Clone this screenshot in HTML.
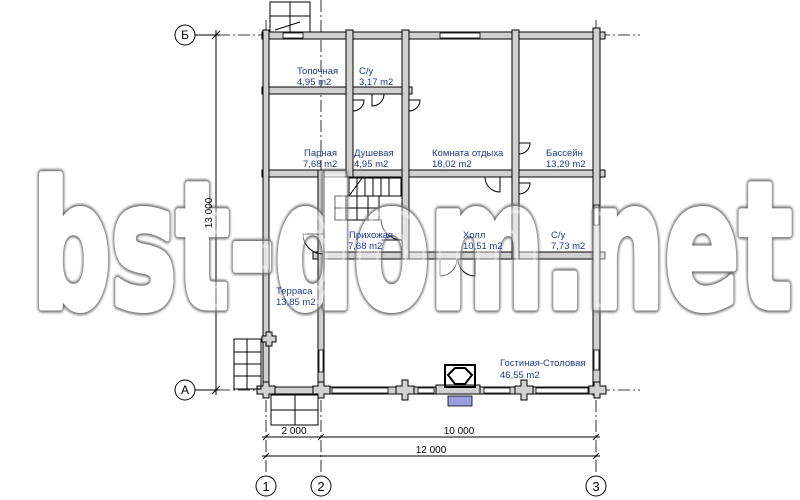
<!DOCTYPE html>
<html><head><meta charset="utf-8"><style>
html,body{margin:0;padding:0;background:#fff;width:800px;height:500px;overflow:hidden}
svg{display:block}
.t{font-family:"Liberation Sans",sans-serif;font-size:9.5px;fill:#1a3a8a}
.d{font-family:"Liberation Sans",sans-serif;font-size:10px;fill:#000}
.w{fill:#d0d0d0;stroke:#000;stroke-width:1}
.ax{stroke:#000;stroke-width:0.8;stroke-dasharray:12 3 2 3;fill:none}
.l{stroke:#000;stroke-width:1;fill:none}
.wm{font-family:'DejaVu Sans',sans-serif;font-size:174px;font-weight:bold}
</style></head><body>
<svg width="800" height="500" viewBox="0 0 800 500" xmlns="http://www.w3.org/2000/svg">
<defs><filter id="b" x="-5%" y="-5%" width="110%" height="110%"><feGaussianBlur stdDeviation="1.3"/></filter>
<mask id="m"><rect width="800" height="500" fill="#fff"/><text x="32" y="307" textLength="760" lengthAdjust="spacingAndGlyphs" class="wm" fill="#000" stroke="#000" stroke-width="7" stroke-linejoin="round">bst-dom.net</text></mask></defs>
<line class="ax" x1="198" y1="35" x2="640" y2="35"/>
<line class="ax" x1="198" y1="390" x2="640" y2="390"/>
<line class="ax" x1="266" y1="20" x2="266" y2="475"/>
<line class="ax" x1="321" y1="0" x2="321" y2="475"/>
<line class="ax" x1="596" y1="20" x2="596" y2="475"/>
<g class="l">
<circle cx="185" cy="35" r="10" fill="#fff"/><circle cx="185" cy="390" r="10" fill="#fff"/>
<circle cx="266" cy="486" r="10" fill="#fff"/><circle cx="321" cy="486" r="10" fill="#fff"/><circle cx="596" cy="486" r="10" fill="#fff"/>
</g>
<line class="l" x1="195" y1="35" x2="220" y2="35"/><line class="l" x1="195" y1="390" x2="220" y2="390"/>
<g class="d" text-anchor="middle">
<text x="185" y="39" style="font-size:12px">Б</text><text x="185" y="394" style="font-size:12px">А</text>
<text x="266" y="491" style="font-size:13px">1</text><text x="321" y="491" style="font-size:13px">2</text><text x="596" y="491" style="font-size:13px">3</text>
</g>
<line class="l" x1="216" y1="30" x2="216" y2="395"/>
<line class="l" x1="212" y1="39" x2="220" y2="31"/><line class="l" x1="212" y1="394" x2="220" y2="386"/>
<line class="l" x1="262" y1="437" x2="600" y2="437"/>
<line class="l" x1="262" y1="456" x2="600" y2="456"/>
<g class="l"><line x1="263" y1="440" x2="269" y2="434"/><line x1="318" y1="440" x2="324" y2="434"/><line x1="593" y1="440" x2="599" y2="434"/>
<line x1="263" y1="459" x2="269" y2="453"/><line x1="593" y1="459" x2="599" y2="453"/></g>
<text class="d" x="294" y="434" text-anchor="middle">2 000</text>
<text class="d" x="459" y="434" text-anchor="middle">10 000</text>
<text class="d" x="431" y="453" text-anchor="middle">12 000</text>
<rect class="w" x="262" y="32" width="343" height="7"/>
<rect class="w" x="262" y="87" width="150" height="7"/>
<rect class="w" x="262" y="170" width="343" height="7"/>
<rect class="w" x="313" y="252" width="292" height="7"/>
<rect class="w" x="262" y="387" width="343" height="7"/>
<rect class="w" x="263" y="30" width="6" height="365"/>
<rect class="w" x="346" y="30" width="7" height="147"/>
<rect class="w" x="402" y="30" width="7" height="229"/>
<rect class="w" x="512" y="30" width="7" height="229"/>
<rect class="w" x="593" y="28" width="7" height="367"/>
<rect class="w" x="318" y="170" width="6" height="225"/>
<g class="w">
<path d="M262 336h4v-4h6v4h4v6h-4v4h-6v-4h-4z"/>
<path d="M257 386h6v-4h6v4h6v8h-6v4h-6v-4h-6z"/>
<path d="M313 386h5v-4h6v4h6v8h-6v4h-6v-4h-5z"/>
<path d="M396 386h6v-6h6v6h6v8h-6v6h-6v-6h-6z"/>
<path d="M515 386h6v-6h6v6h6v8h-6v6h-6v-6h-6z"/>
<path d="M589 386h5v-4h6v4h6v8h-6v4h-6v-4h-5z"/>
<rect x="436" y="385" width="44" height="9"/>
</g>
<g fill="#fff" stroke="#000" stroke-width="0.8">
<rect x="440" y="33" width="40" height="5"/><rect x="283" y="33" width="20" height="5"/>
<rect x="332" y="388" width="56" height="5"/><rect x="418" y="388" width="16" height="5"/><rect x="484" y="388" width="26" height="5"/><rect x="536" y="388" width="52" height="5"/>
<rect x="594" y="205" width="5" height="20"/><rect x="594" y="350" width="5" height="20"/><rect x="319" y="350" width="4" height="22"/>
</g>
<g class="l">
<path d="M372 94 L372 106 A12 12 0 0 0 384 94"/><path d="M353 100 L364 100 A11 11 0 0 1 353 111"/>
<path d="M409 100 L420 100 A11 11 0 0 1 409 111"/><path d="M519 143 L530 143 A11 11 0 0 1 519 154"/>
<path d="M500 177 L500 192 A15 15 0 0 1 485 177"/><path d="M519 183 L530 183 A11 11 0 0 1 519 194"/>
<path d="M323 234 L303 234 A20 20 0 0 0 323 254"/><path d="M381 240 L402 240 A21 21 0 0 1 381 219"/>
<path d="M440 259 L440 276 A17 17 0 0 0 457 259 M475 259 L475 276 A17 17 0 0 1 458 259"/>
</g>
<g class="l">
<rect x="270" y="2" width="40" height="30"/><path d="M270 16 H310 M290 2 V32 M275 30 L300 22"/>
<rect x="349" y="178" width="52" height="18"/><path d="M357 178V196M365 178V196M373 178V196M381 178V196M389 178V196M349 196 L362 178"/>
<rect x="335" y="196" width="44" height="24"/><path d="M335 208H379M346 196V220M357 196V220M368 196V220"/>
<rect x="234" y="339" width="27" height="50"/><path d="M234 352H261M234 364H261M234 376H261M247 339V389"/>
<rect x="271" y="395" width="47" height="30"/><path d="M271 410H318M295 395V425"/>
<rect x="445" y="365" width="30" height="22" stroke-width="2"/><path d="M448 375 L455 368 H465 L472 375 L465 384 H455 Z" stroke-width="2"/>
</g>
<rect x="448" y="396" width="24" height="10" fill="#9aa0e0" stroke="#000" stroke-width="0.8"/>
<text x="32" y="307" textLength="760" lengthAdjust="spacingAndGlyphs" class="wm" fill="none" stroke="#707070" stroke-width="11" stroke-linejoin="round" filter="url(#b)" mask="url(#m)">bst-dom.net</text>
<text x="32" y="307" textLength="760" lengthAdjust="spacingAndGlyphs" class="wm" fill="#fff" fill-opacity="0.4" stroke="#fff" stroke-opacity="0.4" stroke-width="7" stroke-linejoin="round">bst-dom.net</text>
<text class="d" transform="translate(212,213) rotate(-90)" text-anchor="middle">13 000</text>
<g class="t">
<text x="297" y="74">Топочная</text><text x="297" y="85">4,95 m2</text>
<text x="359" y="74">С/у</text><text x="359" y="85">3,17 m2</text>
<text x="304" y="156">Парная</text><text x="303" y="167">7,68 m2</text>
<text x="354" y="156">Душевая</text><text x="354" y="167">4,95 m2</text>
<text x="432" y="156">Комната отдыха</text><text x="432" y="167">18,02 m2</text>
<text x="546" y="156">Бассейн</text><text x="546" y="167">13,29 m2</text>
<text x="349" y="238">Прихожая</text><text x="348" y="249">7,68 m2</text>
<text x="463" y="238">Холл</text><text x="463" y="249">10,51 m2</text>
<text x="551" y="238">С/у</text><text x="551" y="249">7,73 m2</text>
<text x="276" y="294">Терраса</text><text x="276" y="305">13,85 m2</text>
<text x="500" y="366">Гостиная-Столовая</text><text x="500" y="378">46,55 m2</text>
</g>
</svg>
</body></html>
